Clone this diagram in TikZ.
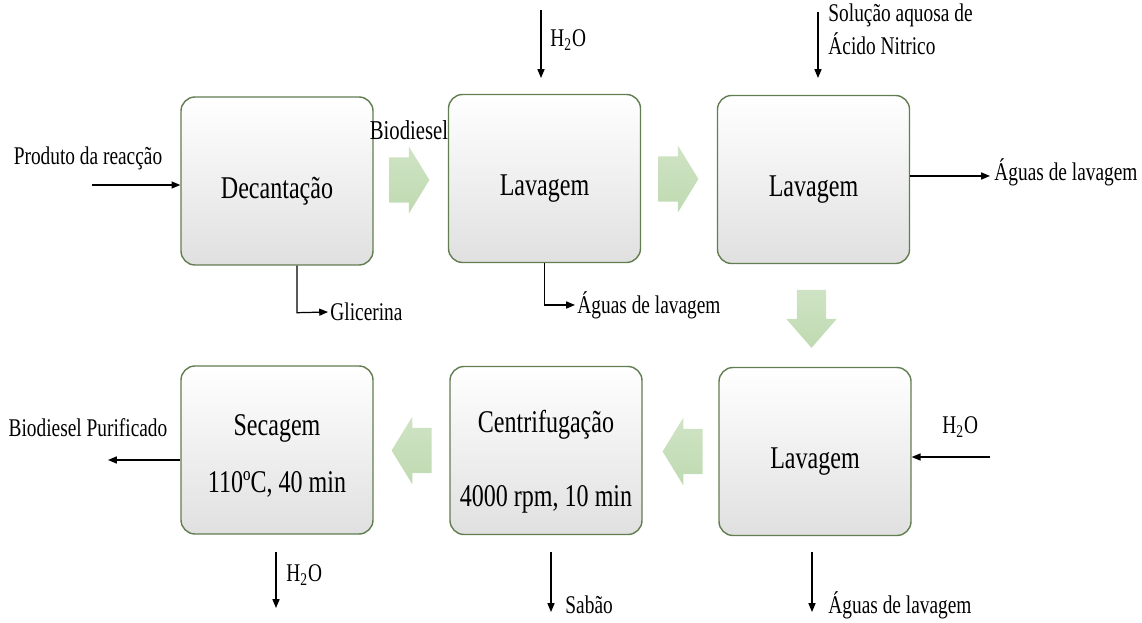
\documentclass[tikz,border=0pt]{standalone}
\usepackage{fontspec}
\setmainfont{Liberation Serif}[FakeStretch=0.76]
\usetikzlibrary{arrows.meta, positioning, shapes.arrows, calc}
\definecolor{cframe}{HTML}{627D50}
\definecolor{cshade}{HTML}{E0E0E0}
\definecolor{cflow}{HTML}{BFDAB1}
\tikzset{
  every picture/.style={line width=0.8pt},
  stage/.style={draw=cframe, rounded corners=8pt, top color=white, bottom color=cshade, minimum width=3.84cm, minimum height=3.36cm, align=center, text height=23.5pt, font=\fontsize{18}{22}\selectfont},
  twoline/.style={text height=#1, text depth=0pt},
  flow/.style={single arrow, top color=cflow!75!white, bottom color=cflow, draw=none, inner xsep=0pt, inner ysep=0.44cm, minimum height=0.8cm, single arrow head extend=0.22cm, single arrow tip angle=117, anchor=tail, rotate=#1},
  flow/.default=0,
  flowdown/.style={flow=270, inner ysep=0.28cm, minimum height=1.16cm, single arrow head extend=0.21cm, single arrow tip angle=82},
  thin/.style={-{Triangle[length=5pt, width=4pt]}, draw=black, line width=0.7pt},
  lbl/.style={font=\fontsize{14.5}{19}\selectfont, inner sep=1pt},
}

\begin{document}
\begin{tikzpicture}
  \useasboundingbox (0,0) rectangle (22.84,12.44);
  % stages
  \node[stage] (dec) at (5.54,8.82) {Decantação};
  \node[stage] (lavA) at (10.89,8.87) {Lavagem};
  \node[stage] (lavB) at (16.27,8.85) {Lavagem};
  \node[stage] (lavC) at (16.30,3.41) {Lavagem};
  \node[stage, twoline=64pt] (cent) at (10.92,3.43) {Centrifugação\\[20pt]4000 rpm, 10 min};
  \node[stage, twoline=48pt] (sec) at (5.54,3.44) {Secagem\\[10pt]110ºC, 40 min};
  % block arrows between stages
  \node[flow] (fA) at ($(dec.east)+(0.3,0.02)$) {};
  \node[flow] (fB) at ($(lavA.east)+(0.33,-0.01)$) {};
  \node[flowdown] (fC) at ($(lavB.south)+(-0.04,-0.5)$) {};
  \node[flow=180] (fD) at ($(lavC.west)+(-0.3,0)$) {};
  \node[flow=180] (fE) at ($(cent.west)+(-0.34,0)$) {};
  \node[lbl, font=\fontsize{15.5}{19}\selectfont] (bio) at (8.18,9.84) {Biodiesel};
  % feeds and outputs
  \coordinate (pin) at (1.84,8.74);
  \draw[thin] (pin) -- (pin -| dec.west);
  \node[lbl] (prod) at (1.76,9.28) {Produto da reacção};
  \coordinate (gA) at ($(dec.south)+(0.4,0)$);
  \coordinate (gB) at ($(gA)+(0,-0.94)$);
  \coordinate (gC) at (6.56,6.2);
  \draw[thin] (gA) -- (gB) -- (gC);
  \node[lbl, anchor=west] (glic) at (gC) {Glicerina};
  \coordinate (wA) at (lavA.south);
  \coordinate (wC) at (11.5,6.34);
  \draw[thin] (wA) |- (wC);
  \node[lbl, anchor=west] (aguaA) at (wC) {Águas de lavagem};
  \coordinate (hA) at (10.82,12.24);
  \coordinate (hB) at (10.82,10.88);
  \draw[thin] (hA) -- (hB);
  \node[lbl, anchor=west] (hdoA) at (10.96,11.64) {H\textsubscript{2}O};
  \coordinate (nA) at (16.36,12.2);
  \coordinate (nB) at (16.36,10.88);
  \draw[thin] (nA) -- (nB);
  \node[lbl, anchor=west, align=left] (acid) at (16.52,11.86) {Solução aquosa de\\Ácido Nitrico};
  \coordinate (wB) at (19.8,8.92);
  \draw[thin] (wB -| lavB.east) -- (wB);
  \node[lbl, anchor=west] (aguaB) at (19.84,9.0) {Águas de lavagem};
  \coordinate (hC) at (19.8,3.3);
  \draw[thin] (hC) -- (hC -| lavC.east);
  \node[lbl, anchor=west] (hdoC) at (18.8,3.9) {H\textsubscript{2}O};
  \coordinate (pA) at (2.16,3.24);
  \draw[thin] (pA -| sec.west) -- (pA);
  \node[lbl] (puro) at (1.76,3.88) {Biodiesel Purificado};
  \foreach \n/\x/\b in {s/5.52/0.28, c/11.02/0.2, l/16.24/0.2} {
    \coordinate (o\n) at (\x,1.4);
    \coordinate (e\n) at (\x,\b);
    \draw[thin] (o\n) -- (e\n);
  }
  \node[lbl, anchor=west] (hdoS) at (5.68,0.94) {H\textsubscript{2}O};
  \node[lbl, anchor=west] (sabao) at (11.26,0.34) {Sabão};
  \node[lbl, anchor=west] (aguaC) at (16.52,0.34) {Águas de lavagem};
\end{tikzpicture}
\end{document}
